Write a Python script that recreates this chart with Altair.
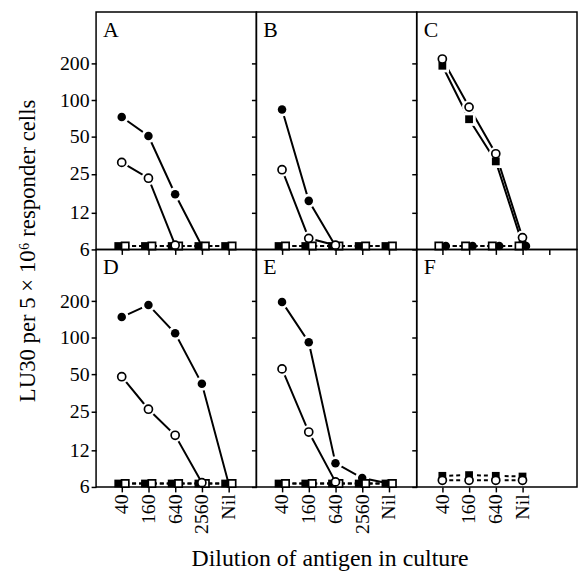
import altair as alt
import pandas as pd

FONT = "Liberation Serif"

labels5 = ["40", "160", "640", "2560", "Nil"]
labels4 = ["40", "160", "640", "Nil", ""]
y_ticks = [6, 12, 25, 50, 100, 200]

# Panel A
A_fc = [73, 51, 17, 6.4]
A_oc = [31, 23, 6.5]
A_fs_base = [6.4, 6.4, 6.4, 6.4, 6.4]
A_os_base = [6.4, 6.4, 6.4, 6.4, 6.4]
# Panel B
B_fc = [84, 15, 6.4]
B_oc = [27, 7.4, 6.5]
B_fs_base = [6.4, 6.4, 6.4, 6.4, 6.4]
B_os_base = [6.4, 6.4, 6.4, 6.4, 6.4]
# Panel C
C_oc = [218, 88, 36.5, 7.5]
C_fs = [192, 70, 31.6, 6.6]
C_os_base = [6.4, 6.4, 6.4, 6.4]
C_fc_base = [6.4, 6.4, 6.4, 6.4]
# Panel D
D_fc = [148, 186, 109, 42, 6.4]
D_oc = [48, 26, 15.9, 6.5]
D_fs_base = [6.4, 6.4, 6.4, 6.4, 6.4]
D_os_base = [6.4, 6.4, 6.4, 6.4, 6.4]
# Panel E
E_fc = [197, 92, 9.4, 7.1, 6.4]
E_oc = [55.6, 16.9, 6.6]
E_fs_base = [6.4, 6.4, 6.4, 6.4, 6.4]
E_os_base = [6.4, 6.4, 6.4, 6.4, 6.4]
# Panel F
F_fs_base = [7.4, 7.5, 7.4, 7.3]
F_oc_base = [6.8, 6.8, 6.8, 6.8]

series = {
    "A": {"fc": A_fc, "oc": A_oc, "fs_base": A_fs_base, "os_base": A_os_base},
    "B": {"fc": B_fc, "oc": B_oc, "fs_base": B_fs_base, "os_base": B_os_base},
    "C": {"oc": C_oc, "fs": C_fs, "os_base": C_os_base, "fc_base": C_fc_base},
    "D": {"fc": D_fc, "oc": D_oc, "fs_base": D_fs_base, "os_base": D_os_base},
    "E": {"fc": E_fc, "oc": E_oc, "fs_base": E_fs_base, "os_base": E_os_base},
    "F": {"fs_base": F_fs_base, "oc_base": F_oc_base},
}

# horizontal nudge (in category steps) for side-by-side baseline markers
OFFSET = {}
for p in "ABDE":
    OFFSET[(p, "fs_base")] = -0.13
    OFFSET[(p, "os_base")] = 0.13
OFFSET[("C", "os_base")] = -0.13
OFFSET[("C", "fc_base")] = 0.13

rows = []
for p, ser in series.items():
    for name, vals in ser.items():
        for i, v in enumerate(vals):
            rows.append({
                "panel": p, "series": name, "i": i, "v": v,
                "shape": "square" if name[1] == "s" else "circle",
                "filled": name[0] == "f",
                "dashed": name.endswith("_base"),
                "xpos": i + OFFSET.get((p, name), 0.0),
            })
df = pd.DataFrame(rows)


def label_expr(labels):
    expr = "''"
    for k in range(len(labels) - 1, -1, -1):
        expr = f"datum.value == {k} ? '{labels[k]}' : ({expr})"
    return expr


W, H = 162, 240
MSIZE = {"circle": 74, "square": 62}
HSIZE = {"circle": 200, "square": 180}


def panel(p, row, col):
    d = df[df.panel == p]
    labels = labels4 if p in "CF" else labels5
    ticks = [0, 1, 2, 3] if p == "F" else [0, 1, 2, 3, 4]
    xaxis = alt.Axis(values=ticks, labels=(row == 1), labelExpr=label_expr(labels),
                     labelAngle=270, tickSize=5, tickWidth=1.5, tickColor="black",
                     domain=False, grid=False, labelFont=FONT, labelFontSize=20,
                     labelColor="black", labelPadding=2,
                     titleFont=FONT, titleFontSize=24, titleFontWeight="normal",
                     titleColor="black", titleY=79, titleX=74, titleAlign="center",
                     titleBaseline="alphabetic")
    yaxis = alt.Axis(values=y_ticks, labels=(col == 0), format="d", tickSize=5, tickWidth=1.5,
                     tickColor="black", domain=False, grid=False, labelFont=FONT,
                     labelFontSize=20, labelColor="black", labelPadding=2,
                     titleFont=FONT, titleFontSize=23, titleFontWeight="normal", titleColor="black",
                     titleAngle=270, titleX=-69, titleY=H + 1, titleAlign="center", titleBaseline="middle")
    xt = "Dilution of antigen in culture" if p == "E" else None
    yt = "LU30 per 5 \u00d7 10\u2076 responder cells" if p == "A" else None
    X = alt.X("xpos:Q", scale=alt.Scale(domain=[-0.96, 5.04], nice=False, zero=False), axis=xaxis, title=xt)
    Y = alt.Y("v:Q", scale=alt.Scale(type="log", domain=[6, 530], nice=False), axis=yaxis, title=yt)
    base = alt.Chart(d).encode(x=X, y=Y)
    layers = [
        base.transform_filter("!datum.dashed").mark_line(color="black", strokeWidth=2).encode(
            detail="series:N", order="i:Q"),
        base.transform_filter("datum.dashed").mark_line(color="black", strokeWidth=2, strokeDash=[4, 3]).encode(
            detail="series:N", order="i:Q"),
    ]
    for shp in ["circle", "square"]:
        layers.append(base.transform_filter(f"datum.v > 7 && datum.shape == '{shp}'").mark_point(
            shape=shp, size=HSIZE[shp], filled=True, color="white", opacity=1))
    for shp in ["square", "circle"]:
        layers.append(base.transform_filter(f"datum.filled && datum.shape == '{shp}'").mark_point(
            shape=shp, size=MSIZE[shp], filled=True, color="black", opacity=1))
    for shp in ["square", "circle"]:
        layers.append(base.transform_filter(f"!datum.filled && datum.shape == '{shp}'").mark_point(
            shape=shp, size=MSIZE[shp] - 8, filled=True, fill="white", stroke="black",
            strokeWidth=1.7, opacity=1))
    layers.append(alt.Chart(pd.DataFrame({"t": [p]})).mark_text(
        font=FONT, fontSize=22, align="left", baseline="alphabetic", color="black").encode(
        text="t:N", x=alt.value(7), y=alt.value(25)))
    return alt.layer(*layers).properties(width=W, height=H)


panels = [panel(p, k // 3, k % 3) for k, p in enumerate("ABCDEF")]

chart = alt.concat(*panels, columns=3, spacing=0, bounds="flush").configure_view(
    stroke="black", strokeWidth=1.5
).properties(padding={"left": 8, "top": 0, "right": 0, "bottom": 0}, background="white")

chart.save("out.html", embed_options={"renderer": "svg", "actions": False})
